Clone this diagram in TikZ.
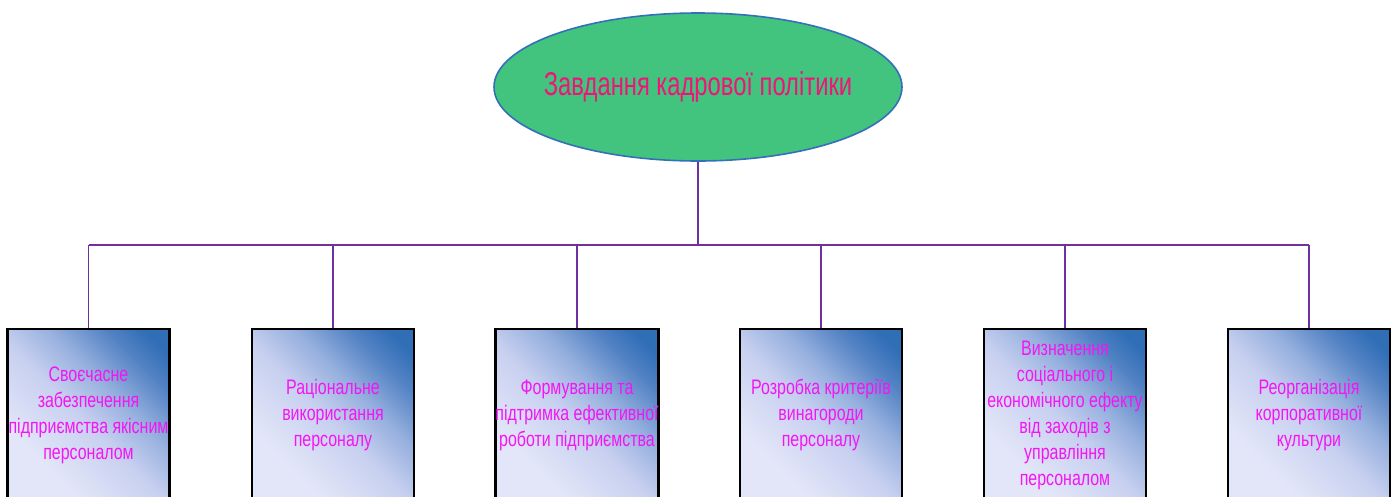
\documentclass[tikz,border=0pt]{standalone}
\usepackage{fontspec}
\setmainfont{Liberation Sans}
\newfontfamily\condfont[FakeStretch=0.76]{Liberation Sans}
\newfontfamily\titlefont[FakeStretch=0.72]{Liberation Sans}
\usetikzlibrary{shapes.geometric,calc}
\definecolor{ovalfill}{RGB}{66,196,126}
\definecolor{ovalline}{RGB}{52,112,186}
\definecolor{titletext}{RGB}{240,20,122}
\definecolor{boxtext}{RGB}{245,20,245}
\definecolor{link}{RGB}{112,48,160}
\definecolor{boxdark}{RGB}{48,110,182}
\definecolor{boxdeep}{RGB}{82,130,196}
\definecolor{boxsoft}{RGB}{150,176,222}
\definecolor{boxmid}{RGB}{200,208,240}
\definecolor{boxlight}{RGB}{226,230,248}
% diagonal fill of the task boxes: pale almost everywhere, deep blue in one corner
\pgfdeclareverticalshading{boxshade}{100bp}{%
  color(0bp)=(boxlight); color(30bp)=(boxlight); color(48bp)=(boxmid);
  color(60bp)=(boxsoft); color(72bp)=(boxdeep); color(80bp)=(boxdark);
  color(100bp)=(boxdark)}
\tikzset{
  oval/.style={ellipse, draw=ovalline, line width=1.6pt, fill=ovalfill,
    minimum width=408pt, minimum height=148pt, inner sep=0pt,
    font=\titlefont\fontsize{33}{36}\selectfont, text=titletext},
  taskbox/.style={rectangle, draw=black, line width=2.6pt,
    shading=boxshade, shading angle=-45,
    minimum width=162pt, minimum height=172pt, inner sep=0pt,
    align=center, text=boxtext,
    font=\condfont\fontsize{21}{26}\selectfont},
  link/.style={draw=link, line width=1.3pt}
}
\begin{document}
\begin{tikzpicture}[x=1pt,y=-1pt]
  \clip (0,0) rectangle (1395,496);
  \fill[white] (0,0) rectangle (1395,496);

  \node[oval] (title) at (698,87) {\raisebox{-2pt}{\makebox[0pt][c]{Завдання кадрової політики}}};
  \coordinate (bus) at (698,245);

  \node[taskbox] (b1) at (88.5,415) {Своєчасне\\забезпечення\\підприємства якісним\\персоналом};
  \node[taskbox] (b2) at (333,415) {Раціональне\\використання\\персоналу};
  \node[taskbox] (b3) at (577,415) {Формування та\\підтримка ефективної\\роботи підприємства};
  \node[taskbox] (b4) at (821,415) {Розробка критеріїв\\винагороди\\персоналу};
  \node[taskbox] (b5) at (1065,415) {Визначення\\соціального і\\економічного ефекту\\від заходів з\\управління\\персоналом};
  \node[taskbox] (b6) at (1309,415) {Реорганізація\\корпоративної\\культури};

  \draw[link] (title.south) -- (title.south |- bus);
  \draw[link] (bus -| b1.north) -- (bus -| b6.north);
  \foreach \b in {b1,b2,b3,b4,b5,b6}
    \draw[link] (bus -| \b.north) -- (\b.north);
\end{tikzpicture}
\end{document}
